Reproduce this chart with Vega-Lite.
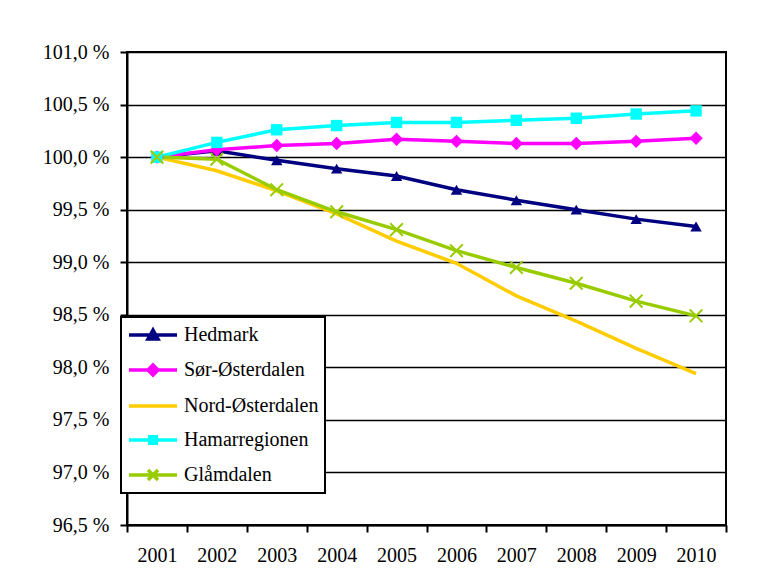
{
  "$schema": "https://vega.github.io/schema/vega-lite/v6.json",
  "autosize": {"type": "none"},
  "padding": {"left": 127, "top": 52, "right": 43, "bottom": 60},
  "width": 599,
  "height": 473,
  "background": "white",
  "config": {
    "view": {"stroke": "black", "strokeWidth": 2},
    "font": "'Liberation Serif', 'Times New Roman', 'DejaVu Serif', serif",
    "axis": {
      "labelFont": "'Liberation Serif', 'Times New Roman', 'DejaVu Serif', serif",
      "labelFontSize": 20,
      "labelColor": "black",
      "domainColor": "black",
      "domainWidth": 2,
      "tickColor": "black",
      "tickWidth": 2,
      "tickSize": 7,
      "title": null
    }
  },
  "data": {
    "values": [
      {"year": "2001", "series": "Hedmark", "value": 100.0},
      {"year": "2002", "series": "Hedmark", "value": 100.06},
      {"year": "2003", "series": "Hedmark", "value": 99.97},
      {"year": "2004", "series": "Hedmark", "value": 99.89},
      {"year": "2005", "series": "Hedmark", "value": 99.82},
      {"year": "2006", "series": "Hedmark", "value": 99.69},
      {"year": "2007", "series": "Hedmark", "value": 99.59},
      {"year": "2008", "series": "Hedmark", "value": 99.5},
      {"year": "2009", "series": "Hedmark", "value": 99.41},
      {"year": "2010", "series": "Hedmark", "value": 99.34},
      {"year": "2001", "series": "Sør-Østerdalen", "value": 100.0},
      {"year": "2002", "series": "Sør-Østerdalen", "value": 100.07},
      {"year": "2003", "series": "Sør-Østerdalen", "value": 100.11},
      {"year": "2004", "series": "Sør-Østerdalen", "value": 100.13},
      {"year": "2005", "series": "Sør-Østerdalen", "value": 100.17},
      {"year": "2006", "series": "Sør-Østerdalen", "value": 100.15},
      {"year": "2007", "series": "Sør-Østerdalen", "value": 100.13},
      {"year": "2008", "series": "Sør-Østerdalen", "value": 100.13},
      {"year": "2009", "series": "Sør-Østerdalen", "value": 100.15},
      {"year": "2010", "series": "Sør-Østerdalen", "value": 100.18},
      {"year": "2001", "series": "Nord-Østerdalen", "value": 100.0},
      {"year": "2002", "series": "Nord-Østerdalen", "value": 99.87},
      {"year": "2003", "series": "Nord-Østerdalen", "value": 99.68},
      {"year": "2004", "series": "Nord-Østerdalen", "value": 99.46},
      {"year": "2005", "series": "Nord-Østerdalen", "value": 99.2},
      {"year": "2006", "series": "Nord-Østerdalen", "value": 98.99},
      {"year": "2007", "series": "Nord-Østerdalen", "value": 98.68},
      {"year": "2008", "series": "Nord-Østerdalen", "value": 98.44},
      {"year": "2009", "series": "Nord-Østerdalen", "value": 98.18},
      {"year": "2010", "series": "Nord-Østerdalen", "value": 97.94},
      {"year": "2001", "series": "Hamarregionen", "value": 100.0},
      {"year": "2002", "series": "Hamarregionen", "value": 100.14},
      {"year": "2003", "series": "Hamarregionen", "value": 100.26},
      {"year": "2004", "series": "Hamarregionen", "value": 100.3},
      {"year": "2005", "series": "Hamarregionen", "value": 100.33},
      {"year": "2006", "series": "Hamarregionen", "value": 100.33},
      {"year": "2007", "series": "Hamarregionen", "value": 100.35},
      {"year": "2008", "series": "Hamarregionen", "value": 100.37},
      {"year": "2009", "series": "Hamarregionen", "value": 100.41},
      {"year": "2010", "series": "Hamarregionen", "value": 100.44},
      {"year": "2001", "series": "Glåmdalen", "value": 100.0},
      {"year": "2002", "series": "Glåmdalen", "value": 99.98},
      {"year": "2003", "series": "Glåmdalen", "value": 99.69},
      {"year": "2004", "series": "Glåmdalen", "value": 99.48},
      {"year": "2005", "series": "Glåmdalen", "value": 99.31},
      {"year": "2006", "series": "Glåmdalen", "value": 99.11},
      {"year": "2007", "series": "Glåmdalen", "value": 98.95},
      {"year": "2008", "series": "Glåmdalen", "value": 98.8},
      {"year": "2009", "series": "Glåmdalen", "value": 98.63},
      {"year": "2010", "series": "Glåmdalen", "value": 98.49}
    ]
  },
  "encoding": {
    "x": {
      "field": "year",
      "type": "ordinal",
      "bandPosition": 0.5,
      "scale": {"type": "band", "paddingInner": 0, "paddingOuter": 0},
      "axis": {"labelAngle": 0, "tickBand": "extent", "grid": false, "labelPadding": 13}
    },
    "y": {
      "field": "value",
      "type": "quantitative",
      "scale": {"domain": [96.5, 101], "zero": false, "nice": false},
      "axis": {
        "values": [96.5, 97, 97.5, 98, 98.5, 99, 99.5, 100, 100.5, 101],
        "grid": true,
        "gridColor": "black",
        "gridWidth": 1.5,
        "gridOpacity": 1,
        "labelPadding": 11,
        "labelExpr": "replace(format(datum.value, '.1f'), '.', ',') + ' %'"
      }
    }
  },
  "layer": [
    {
      "mark": {"type": "line", "strokeWidth": 3.5},
      "encoding": {
        "color": {
          "field": "series",
          "type": "nominal",
          "scale": {
            "domain": ["Hedmark", "Sør-Østerdalen", "Nord-Østerdalen", "Hamarregionen", "Glåmdalen"],
            "range": ["#000080", "#FF00FF", "#FFCC00", "#00FFFF", "#99CC00"]
          },
          "legend": {
            "title": null,
            "orient": "none",
            "legendX": -6,
            "legendY": 265,
            "fillColor": "white",
            "strokeColor": "black",
            "padding": 6,
            "cornerRadius": 0,
            "symbolSize": 400,
            "symbolStrokeWidth": 3.5,
            "labelOffset": 33,
            "rowPadding": 12,
            "labelFont": "'Liberation Serif', 'Times New Roman', 'DejaVu Serif', serif",
            "labelFontSize": 20,
            "labelColor": "black",
            "labelLimit": 300,
            "encode": {
              "legend": {
                "update": {
                  "strokeWidth": {"value": 2}
                }
              },
              "symbols": {
                "update": {
                  "shape": {"signal": "datum.value === 'Hedmark' ? 'M-1,0L3.8,0M1.4,-0.5L1.9,0.4L0.9,0.4Z' : datum.value === 'Sør-Østerdalen' ? 'M-1,0L3.8,0M1.4,-0.5L1.9,0L1.4,0.5L0.9,0Z' : datum.value === 'Hamarregionen' ? 'M-1,0L3.8,0M1.07,-0.33L1.73,-0.33L1.73,0.33L1.07,0.33Z' : datum.value === 'Glåmdalen' ? 'M-1,0L3.8,0M0.9,-0.5L1.9,0.5M0.9,0.5L1.9,-0.5' : 'M-1,0L3.8,0'"},
                  "fill": {"scale": "color", "field": "value"},
                  "stroke": {"scale": "color", "field": "value"},
                  "opacity": {"value": 1}
                }
              }
            }
          }
        }
      }
    },
    {
      "transform": [{"filter": "datum.series === 'Hedmark'"}],
      "mark": {"type": "point", "shape": "triangle-up", "filled": true, "color": "#000080", "size": 130, "opacity": 1}
    },
    {
      "transform": [{"filter": "datum.series === 'Sør-Østerdalen'"}],
      "mark": {"type": "point", "shape": "diamond", "filled": true, "color": "#FF00FF", "size": 180, "opacity": 1}
    },
    {
      "transform": [{"filter": "datum.series === 'Hamarregionen'"}],
      "mark": {"type": "point", "shape": "square", "filled": true, "color": "#00FFFF", "size": 130, "opacity": 1}
    },
    {
      "transform": [{"filter": "datum.series === 'Glåmdalen'"}],
      "mark": {"type": "point", "shape": "M-1,-1L1,1M-1,1L1,-1", "filled": false, "color": "#99CC00", "strokeWidth": 2, "size": 160, "opacity": 1}
    }
  ]
}
